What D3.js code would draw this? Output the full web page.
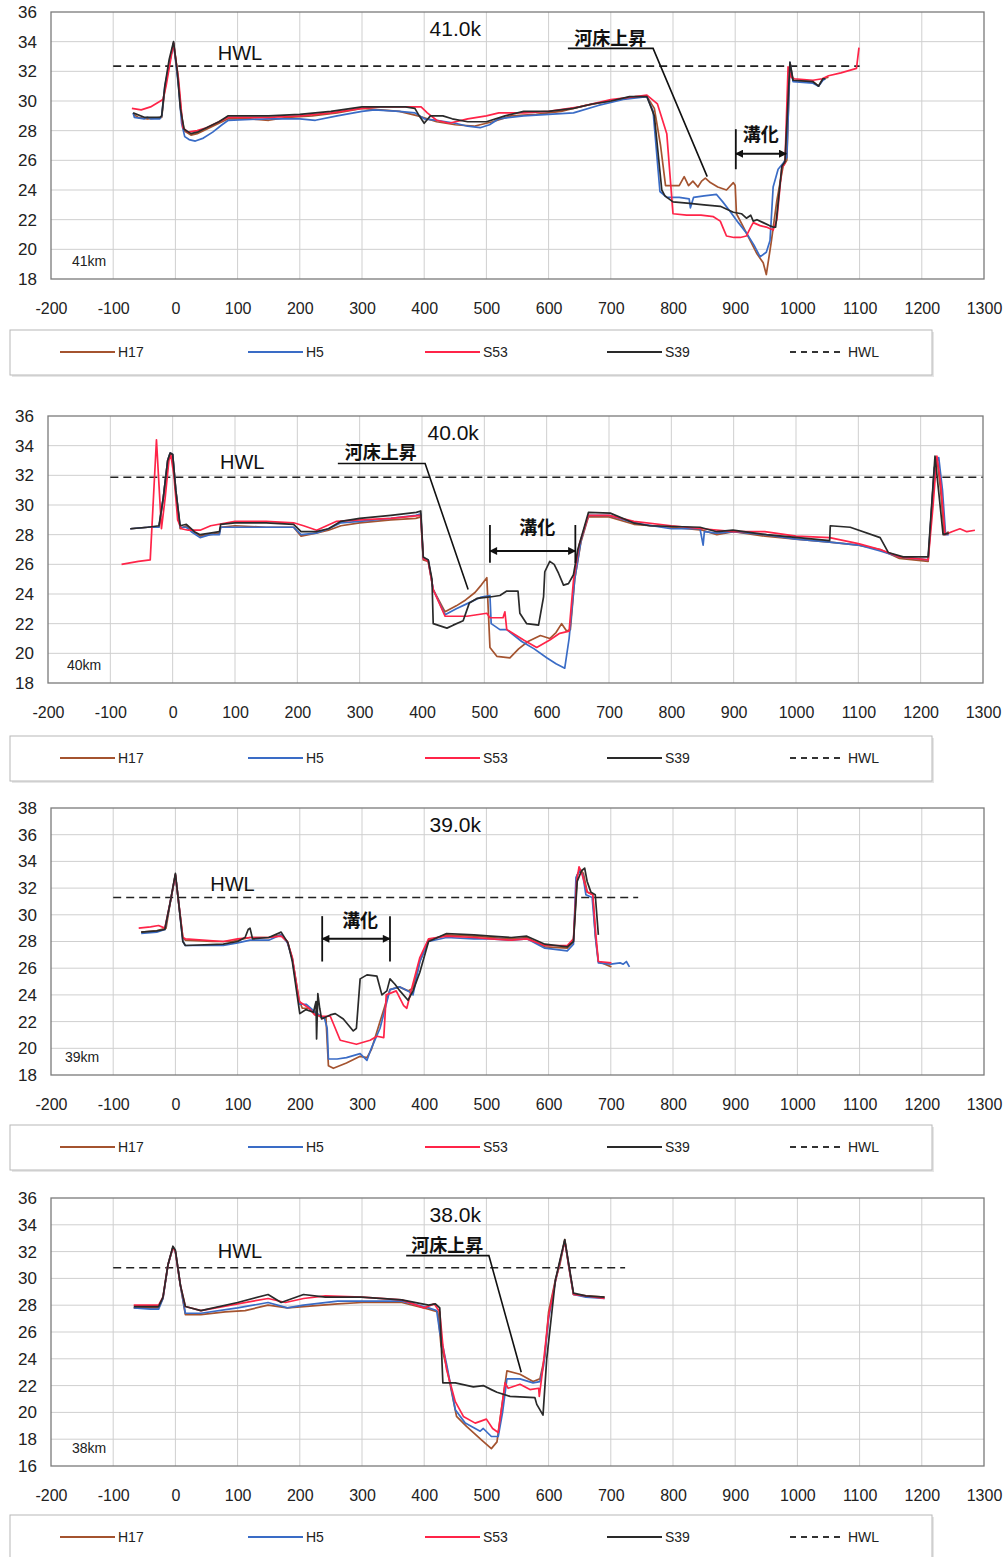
<!DOCTYPE html>
<html><head><meta charset="utf-8">
<script src="https://cdn.jsdelivr.net/npm/d3@7"></script>
<style>body{margin:0;background:#fff}</style>
</head><body>
<svg id="c" width="1006" height="1557" xmlns="http://www.w3.org/2000/svg"></svg>
<script>
// ---------------- DATA ----------------
const seriesNames = ["H17", "H5", "S53", "S39"];
const xTickValues = [-200,-100,0,100,200,300,400,500,600,700,800,900,1000,1100,1200,1300];
const sectionTitles = ["41.0k", "40.0k", "39.0k", "38.0k"];
const sectionKm = ["41km", "40km", "39km", "38km"];
const hwlLevels = [32.35, 31.87, 31.3, 30.8];
const hwlExtents = [[-100,1100], [-100,1300], [-100,744], [-100,723]];
const yDomains = [[18,36], [18,36], [18,38], [16,36]];

// 41.0k
const s41_H17 = [[-68,29.1],[-60,28.9],[-45,28.8],[-22,28.9],[-17,30.8],[-10,32.5],[-3,33.9],[3,32.0],[10,29.0],[14,28.0],[25,27.7],[35,27.8],[50,28.1],[70,28.5],[85,28.8],[120,28.8],[150,28.7],[180,28.9],[220,29.0],[260,29.2],[300,29.5],[330,29.4],[360,29.3],[390,29.0],[420,28.6],[450,28.4],[480,28.3],[510,28.6],[540,29.0],[580,29.1],[620,29.3],[660,29.7],[700,30.0],[740,30.3],[758,30.3],[770,29.5],[780,27.0],[788,24.3],[800,24.3],[810,24.3],[818,24.9],[825,24.3],[832,24.6],[840,24.2],[846,24.6],[852,24.8],[860,24.5],[872,24.2],[886,24.0],[897,24.5],[900,24.3],[902,22.4],[912,21.6],[924,20.6],[935,19.7],[945,19.1],[950,18.3],[958,20.5],[967,23.3],[977,25.6],[983,26.0],[988,32.6],[993,31.4],[1025,31.3],[1034,31.0],[1041,31.5],[1050,31.6]];
const s41_H5 = [[-68,29.2],[-66,28.9],[-50,28.8],[-45,28.9],[-40,28.8],[-25,28.8],[-22,29.0],[-17,31.0],[-3,33.9],[5,31.0],[10,28.5],[15,27.6],[22,27.4],[32,27.3],[45,27.5],[60,27.9],[75,28.4],[85,28.7],[150,28.8],[200,28.8],[225,28.7],[260,29.0],[300,29.3],[320,29.4],[360,29.3],[385,29.2],[400,28.8],[420,28.7],[450,28.5],[470,28.3],[490,28.2],[505,28.4],[520,28.8],[560,29.0],[600,29.1],[640,29.2],[680,29.7],[720,30.1],[758,30.3],[768,29.3],[779,23.9],[790,23.5],[810,23.5],[826,23.4],[828,22.8],[833,23.5],[850,23.6],[870,23.7],[880,23.2],[891,22.6],[905,21.8],[918,21.1],[930,20.3],[940,19.5],[950,19.8],[956,20.6],[961,24.2],[969,25.4],[977,25.8],[983,26.2],[988,32.6],[993,31.3],[1025,31.2],[1034,31.0],[1041,31.4],[1045,31.5]];
const s41_S53 = [[-70,29.5],[-55,29.4],[-40,29.6],[-20,30.1],[-15,31.0],[-3,33.9],[5,31.5],[12,28.2],[20,27.9],[35,28.0],[50,28.2],[65,28.5],[85,28.9],[150,28.9],[200,29.0],[250,29.2],[300,29.5],[330,29.6],[370,29.6],[395,29.6],[405,29.2],[420,28.7],[440,28.5],[470,28.8],[500,29.0],[520,29.2],[560,29.2],[600,29.3],[650,29.6],[700,30.1],[740,30.3],[758,30.4],[775,29.8],[790,27.8],[800,22.4],[822,22.3],[845,22.3],[865,22.2],[876,21.9],[881,21.4],[886,20.9],[898,20.8],[908,20.8],[918,20.9],[925,21.5],[929,21.8],[940,21.6],[950,21.5],[961,21.3],[967,22.0],[975,25.5],[980,25.8],[985,32.3],[990,31.6],[995,31.5],[1025,31.4],[1040,31.5],[1050,31.7],[1070,31.9],[1095,32.2],[1099,33.6]];
const s41_S39 = [[-68,29.2],[-50,28.9],[-25,28.9],[-22,29.0],[-17,31.0],[-10,32.8],[-3,34.0],[3,32.0],[8,29.5],[14,28.1],[25,27.8],[35,27.9],[50,28.2],[70,28.6],[85,29.0],[150,29.0],[200,29.1],[250,29.3],[300,29.6],[340,29.6],[370,29.6],[385,29.5],[392,29.0],[400,28.5],[410,29.0],[430,29.0],[445,28.8],[470,28.6],[500,28.6],[530,29.0],[560,29.3],[600,29.3],[640,29.5],[670,29.8],[700,30.0],[730,30.3],[758,30.3],[770,29.0],[782,24.0],[787,23.6],[800,23.2],[827,23.1],[850,23.0],[876,22.9],[897,22.5],[910,22.4],[918,22.1],[925,22.3],[929,21.9],[935,22.0],[945,21.8],[955,21.6],[961,21.5],[965,21.5],[975,25.6],[980,25.9],[988,32.6],[993,31.4],[1025,31.3],[1034,31.0],[1041,31.5],[1045,31.5]];

// 40.0k
const s40_H17 = [[-68,28.4],[-40,28.5],[-22,28.5],[-15,30.5],[-8,33.0],[-4,33.5],[0,33.4],[5,31.0],[12,28.4],[22,28.6],[30,28.3],[44,27.9],[60,28.0],[75,28.1],[77,28.5],[100,28.6],[150,28.5],[194,28.5],[206,27.9],[230,28.1],[250,28.3],[270,28.6],[300,28.8],[350,29.0],[390,29.1],[398,29.2],[402,26.3],[410,26.2],[418,24.3],[437,22.8],[455,23.2],[470,23.6],[485,24.1],[495,24.6],[504,25.1],[509,20.4],[520,19.8],[541,19.7],[555,20.3],[570,20.8],[590,21.2],[605,21.0],[615,21.4],[624,22.0],[632,21.5],[638,21.6],[645,25.0],[655,27.5],[667,29.2],[700,29.2],[740,28.7],[800,28.5],[850,28.3],[873,28.0],[900,28.2],[950,27.9],[1000,27.7],[1054,27.5],[1100,27.3],[1135,27.0],[1166,26.4],[1212,26.2],[1222,32.5],[1226,33.2],[1232,31.0],[1238,28.0],[1245,28.2]];
const s40_H5 = [[-68,28.4],[-40,28.5],[-22,28.5],[-15,30.5],[-8,33.0],[-4,33.5],[0,33.4],[5,31.0],[12,28.5],[22,28.5],[30,28.2],[44,27.8],[60,28.0],[75,28.0],[77,28.5],[100,28.5],[150,28.5],[194,28.5],[206,28.0],[230,28.1],[250,28.4],[270,28.8],[300,28.9],[350,29.1],[390,29.3],[398,29.4],[402,26.4],[410,26.3],[418,24.3],[437,22.6],[455,23.0],[470,23.3],[495,23.8],[509,23.9],[511,22.0],[525,21.6],[536,21.6],[560,20.8],[580,20.3],[600,19.7],[615,19.3],[629,19.0],[636,21.0],[645,25.0],[655,27.6],[667,29.3],[700,29.3],[740,28.8],[800,28.4],[846,28.4],[851,27.3],[853,28.2],[873,28.1],[900,28.2],[950,28.0],[1000,27.7],[1054,27.5],[1100,27.3],[1135,26.9],[1166,26.5],[1212,26.3],[1222,32.5],[1229,33.2],[1235,31.0],[1240,28.0],[1245,28.0]];
const s40_S53 = [[-82,26.0],[-55,26.2],[-36,26.3],[-26,34.4],[-18,28.4],[-12,30.5],[-6,33.0],[-3,33.4],[2,32.0],[8,29.0],[14,28.4],[25,28.3],[44,28.3],[61,28.6],[100,28.9],[150,28.9],[194,28.8],[210,28.6],[231,28.3],[263,28.9],[300,29.0],[350,29.1],[398,29.3],[402,26.4],[410,26.2],[418,24.3],[437,22.5],[472,22.5],[504,22.7],[509,22.4],[530,22.4],[533,22.8],[536,21.6],[563,20.9],[584,20.4],[605,20.9],[621,21.35],[636,21.5],[643,24.9],[652,27.3],[667,29.3],[700,29.3],[740,28.9],[800,28.6],[850,28.4],[900,28.2],[950,28.2],[1000,27.9],[1054,27.8],[1100,27.4],[1135,27.0],[1166,26.5],[1212,26.3],[1220,30.0],[1226,33.3],[1232,31.5],[1239,28.0],[1250,28.2],[1263,28.4],[1274,28.2],[1287,28.3]];
const s40_S39 = [[-68,28.4],[-40,28.5],[-22,28.6],[-15,30.5],[-8,33.0],[-4,33.5],[0,33.4],[5,31.0],[12,28.6],[22,28.7],[35,28.2],[44,28.0],[60,28.1],[75,28.2],[77,28.7],[100,28.8],[150,28.8],[194,28.7],[206,28.2],[230,28.2],[250,28.4],[270,28.9],[300,29.1],[350,29.3],[391,29.5],[398,29.6],[402,26.5],[410,26.3],[416,25.0],[418,22.0],[440,21.7],[450,21.9],[466,22.2],[476,23.4],[488,23.7],[509,23.8],[525,23.9],[536,24.2],[554,24.2],[557,22.7],[568,22.0],[587,21.9],[595,23.8],[597,25.5],[605,26.2],[612,26.0],[619,25.4],[627,24.6],[635,24.7],[643,25.3],[650,27.0],[667,29.5],[702,29.45],[739,28.8],[765,28.6],[846,28.5],[873,28.2],[899,28.3],[953,28.0],[1054,27.6],[1055,28.6],[1087,28.5],[1135,27.8],[1148,26.8],[1172,26.5],[1212,26.5],[1223,33.3],[1236,28.0],[1245,28.1]];

// 39.0k
const s39_H17 = [[-55,28.7],[-30,28.8],[-15,29.0],[-8,31.0],[0,33.0],[5,31.0],[12,28.3],[16,28.1],[60,28.0],[90,28.0],[120,28.3],[150,28.3],[170,28.5],[180,28.0],[188,26.7],[199,23.6],[204,23.0],[215,23.0],[225,22.6],[235,22.3],[242,22.3],[246,18.7],[254,18.5],[275,18.9],[297,19.4],[308,19.3],[315,19.9],[329,22.0],[345,24.4],[360,24.6],[374,24.3],[382,24.5],[393,26.5],[407,28.1],[436,28.5],[480,28.4],[507,28.3],[540,28.2],[565,28.3],[594,27.6],[630,27.5],[640,28.0],[646,33.0],[651,33.4],[656,33.1],[662,31.7],[671,31.5],[675,28.5],[680,26.5],[701,26.1]];
const s39_H5 = [[-55,28.6],[-30,28.7],[-17,28.9],[-8,31.0],[0,33.0],[5,31.0],[12,28.0],[16,27.7],[77,27.7],[100,27.9],[120,28.1],[150,28.1],[170,28.5],[180,27.9],[188,26.7],[199,23.3],[210,23.3],[225,22.7],[240,22.2],[244,21.5],[246,19.2],[260,19.2],[275,19.3],[297,19.6],[308,19.1],[315,20.0],[329,21.5],[345,24.4],[361,24.6],[374,24.3],[382,24.0],[393,26.5],[407,28.0],[436,28.3],[480,28.2],[507,28.2],[540,28.1],[565,28.2],[594,27.5],[630,27.3],[640,27.8],[644,32.8],[650,33.3],[655,33.0],[660,31.5],[670,31.3],[676,28.0],[680,26.4],[700,26.3],[715,26.4],[720,26.3],[725,26.5],[730,26.1]];
const s39_S53 = [[-59,29.0],[-40,29.1],[-27,29.2],[-17,29.0],[-8,31.0],[0,33.0],[5,31.0],[12,28.3],[16,28.2],[77,28.0],[100,28.2],[120,28.3],[150,28.3],[170,28.4],[180,28.0],[188,26.8],[199,23.5],[215,23.0],[224,22.5],[237,22.4],[249,22.4],[265,20.6],[291,20.3],[313,20.6],[324,20.9],[335,20.8],[339,24.0],[355,24.3],[367,23.2],[372,23.0],[380,24.5],[393,26.8],[407,28.2],[436,28.4],[480,28.3],[507,28.2],[540,28.1],[565,28.2],[594,27.7],[630,27.7],[640,28.2],[645,32.5],[649,33.6],[654,33.0],[662,31.7],[671,31.5],[676,28.5],[680,26.5],[701,26.4]];
const s39_S39 = [[-55,28.7],[-30,28.8],[-17,28.9],[-8,31.0],[0,33.1],[5,31.0],[12,28.0],[16,27.7],[77,27.8],[100,28.0],[112,28.3],[117,28.9],[120,29.0],[124,28.2],[150,28.3],[170,28.7],[181,27.9],[188,26.5],[200,22.6],[210,22.9],[222,22.7],[226,23.5],[227,20.7],[229,24.1],[232,23.0],[235,22.2],[249,22.5],[257,22.6],[270,22.2],[286,21.3],[291,21.5],[297,25.2],[308,25.5],[324,25.4],[332,24.0],[340,24.3],[345,25.2],[353,24.8],[361,24.3],[374,23.6],[382,24.3],[393,25.7],[407,28.0],[436,28.6],[480,28.5],[507,28.4],[540,28.3],[565,28.4],[594,27.8],[630,27.6],[640,28.0],[646,32.5],[653,33.3],[658,33.5],[662,32.5],[668,31.7],[675,31.5],[680,28.5]];

// 38.0k
const s38_H17 = [[-67,27.8],[-40,27.8],[-27,27.8],[-20,28.5],[-12,31.0],[-4,32.3],[0,32.0],[8,29.5],[16,27.3],[41,27.3],[80,27.5],[112,27.6],[149,28.0],[180,27.8],[206,27.9],[261,28.1],[300,28.2],[364,28.2],[407,27.7],[422,27.5],[427,25.0],[436,23.4],[452,19.7],[468,18.95],[492,17.95],[508,17.3],[517,17.8],[525,20.5],[533,23.1],[554,22.85],[575,22.3],[586,22.5],[594,24.2],[600,27.5],[611,29.9],[618,31.0],[626,32.9],[632,31.0],[640,28.8],[660,28.7],[690,28.6]];
const s38_H5 = [[-67,27.8],[-40,27.7],[-27,27.7],[-20,28.5],[-12,31.0],[-4,32.3],[0,32.0],[8,29.5],[16,27.4],[41,27.4],[100,27.8],[149,28.2],[180,27.8],[206,28.0],[261,28.3],[300,28.3],[364,28.3],[407,27.8],[420,27.6],[425,26.0],[436,23.6],[450,20.2],[466,19.2],[490,18.6],[495,18.8],[508,18.2],[519,18.2],[526,20.0],[533,22.5],[554,22.5],[575,22.2],[586,22.3],[592,23.5],[600,27.0],[611,29.8],[626,32.8],[640,28.8],[660,28.6],[690,28.5]];
const s38_S53 = [[-67,28.0],[-40,28.0],[-27,28.0],[-20,28.6],[-12,31.0],[-4,32.3],[0,32.0],[8,29.5],[16,27.9],[41,27.6],[100,28.1],[149,28.5],[177,28.2],[206,28.5],[241,28.7],[300,28.6],[364,28.4],[400,27.8],[416,28.1],[425,27.5],[430,25.0],[436,23.2],[450,20.8],[463,19.7],[482,19.2],[500,19.5],[510,18.8],[519,18.5],[525,20.5],[530,22.2],[535,21.8],[554,22.1],[570,21.7],[584,21.8],[585,21.2],[590,23.0],[600,27.2],[611,29.8],[626,32.8],[640,28.8],[660,28.7],[690,28.5]];
const s38_S39 = [[-67,27.9],[-40,27.9],[-27,27.9],[-20,28.6],[-12,31.0],[-4,32.4],[0,32.1],[8,29.5],[16,27.9],[41,27.6],[100,28.2],[149,28.8],[170,28.2],[206,28.8],[241,28.6],[299,28.6],[364,28.4],[407,28.0],[418,28.1],[425,27.8],[430,22.2],[450,22.2],[479,21.9],[495,22.0],[508,21.7],[517,21.5],[538,21.2],[578,21.1],[581,20.6],[591,19.8],[597,24.0],[611,29.9],[626,32.9],[640,28.9],[660,28.7],[690,28.6]];

const sectionSeries = [
  [s41_H17, s41_H5, s41_S53, s41_S39],
  [s40_H17, s40_H5, s40_S53, s40_S39],
  [s39_H17, s39_H5, s39_S53, s39_S39],
  [s38_H17, s38_H5, s38_S53, s38_S39]
];

// ---------------- LAYOUT / STYLE ----------------
const colors = {H17:"#a4532f", H5:"#3a6cc6", S53:"#ff2448", S39:"#2a2a2a"};
const layout = [
  {l:51, t:12,   r:984, b:279,  legendY:352,  hwlX:68,  kmX:72},
  {l:48, t:416,  r:983, b:683,  legendY:758,  hwlX:76,  kmX:67},
  {l:51, t:808,  r:984, b:1075, legendY:1147, hwlX:56,  kmX:65},
  {l:51, t:1198, r:984, b:1466, legendY:1537, hwlX:68,  kmX:72}
];
// annotations in data units
const annotations = [
  {rise:{label:[699,33.75], path:[[631,33.55],[768,33.55],[855,24.9]]},
   groove:{label:[941,27.3], bars:[901], yBar:[28.1,25.4], arrow:[901,982], yArrow:26.45}},
  {rise:{label:[334,33.1], path:[[265,32.8],[405,32.8],[474,24.3]]},
   groove:{label:[585,28.05], bars:[509,646], yBar:[28.65,26.1], arrow:[509,646], yArrow:26.9}},
  {groove:{label:[297,29.05], bars:[236,345], yBar:[29.9,26.5], arrow:[236,345], yArrow:28.2}},
  {rise:{label:[437,32.0], path:[[371,31.7],[504,31.7],[556,23.0]]}}
];

const svg = d3.select("#c");
svg.append("rect").attr("width",1006).attr("height",1557).attr("fill","#fff");
const defs = svg.append("defs");
defs.append("marker").attr("id","ah").attr("viewBox","0 0 10 10").attr("refX",9).attr("refY",5)
  .attr("markerWidth",9).attr("markerHeight",8).attr("markerUnits","userSpaceOnUse").attr("orient","auto-start-reverse")
  .append("path").attr("d","M0,0 L10,5 L0,10 z").attr("fill","#111");

const numFont = "'Liberation Sans', Arial, sans-serif";
const cjkFont = "'Noto Sans CJK JP', 'Noto Sans CJK SC', sans-serif";

layout.forEach((L, i) => {
  const x = d3.scaleLinear().domain([-200,1300]).range([L.l, L.r]);
  const y = d3.scaleLinear().domain(yDomains[i]).range([L.b, L.t]);
  const g = svg.append("g");

  // grid
  const yTicks = d3.range(yDomains[i][0], yDomains[i][1] + 0.001, 2);
  g.selectAll(".hg").data(yTicks.slice(1, -1)).join("line")
    .attr("x1", L.l).attr("x2", L.r).attr("y1", d => y(d)).attr("y2", d => y(d))
    .attr("stroke", "#cfcfcf").attr("stroke-width", 1);
  g.selectAll(".vg").data(xTickValues.slice(1, -1)).join("line")
    .attr("x1", d => x(d)).attr("x2", d => x(d)).attr("y1", L.t).attr("y2", L.b)
    .attr("stroke", "#cfcfcf").attr("stroke-width", 1);

  // axes labels via d3 axes
  const ax = g.append("g").attr("transform", `translate(0,${L.b})`)
    .call(d3.axisBottom(x).tickValues(xTickValues).tickSize(0).tickPadding(24).tickFormat(d => String(d)));
  ax.select(".domain").remove();
  ax.selectAll("text").attr("font-family", numFont).attr("font-size", 16).attr("fill", "#222");
  const ay = g.append("g").attr("transform", `translate(${L.l},0)`)
    .call(d3.axisLeft(y).tickValues(yTicks).tickSize(0).tickPadding(14).tickFormat(d3.format("d")));
  ay.select(".domain").remove();
  ay.selectAll("text").attr("font-family", numFont).attr("font-size", 17).attr("fill", "#222");

  // HWL
  g.append("line").attr("x1", x(hwlExtents[i][0])).attr("x2", x(hwlExtents[i][1]))
    .attr("y1", y(hwlLevels[i])).attr("y2", y(hwlLevels[i]))
    .attr("stroke", "#222").attr("stroke-width", 1.6).attr("stroke-dasharray", "8,5");

  // series
  const line = d3.line().x(d => x(d[0])).y(d => y(d[1]));
  sectionSeries[i].forEach((data, k) => {
    g.append("path").attr("d", line(data)).attr("fill", "none")
      .attr("stroke", colors[seriesNames[k]]).attr("stroke-width", 1.7).attr("stroke-linejoin", "round");
  });

  // border
  g.append("rect").attr("x", L.l).attr("y", L.t).attr("width", L.r - L.l).attr("height", L.b - L.t)
    .attr("fill", "none").attr("stroke", "#7a7a7a").attr("stroke-width", 1.3);

  // texts
  g.append("text").attr("x", x(450)).attr("y", L.t + 24).attr("text-anchor", "middle")
    .attr("font-family", numFont).attr("font-size", 21).attr("fill", "#111").text(sectionTitles[i]);
  const hwlLabelY = y(hwlLevels[i]) - [6, 8, 6, 10][i];
  g.append("text").attr("x", x(L.hwlX)).attr("y", hwlLabelY)
    .attr("font-family", numFont).attr("font-size", 20).attr("fill", "#111").text("HWL");
  g.append("text").attr("x", L.kmX).attr("y", L.b - 13)
    .attr("font-family", numFont).attr("font-size", 14).attr("fill", "#222").text(sectionKm[i]);

  const A = annotations[i];
  if (A.rise) {
    g.append("text").attr("x", x(A.rise.label[0])).attr("y", y(A.rise.label[1])).attr("text-anchor", "middle")
      .attr("font-family", cjkFont).attr("font-weight", "bold").attr("font-size", 18).attr("fill", "#111").text("河床上昇");
    g.append("path").attr("d", d3.line().x(d => x(d[0])).y(d => y(d[1]))(A.rise.path))
      .attr("fill", "none").attr("stroke", "#111").attr("stroke-width", 1.6);
  }
  if (A.groove) {
    const G = A.groove;
    g.append("text").attr("x", x(G.label[0])).attr("y", y(G.label[1])).attr("text-anchor", "middle")
      .attr("font-family", cjkFont).attr("font-weight", "bold").attr("font-size", 18).attr("fill", "#111").text("溝化");
    G.bars.forEach(b => {
      g.append("line").attr("x1", x(b)).attr("x2", x(b)).attr("y1", y(G.yBar[0])).attr("y2", y(G.yBar[1]))
        .attr("stroke", "#111").attr("stroke-width", 1.8);
    });
    g.append("line").attr("x1", x(G.arrow[0])).attr("x2", x(G.arrow[1]))
      .attr("y1", y(G.yArrow)).attr("y2", y(G.yArrow))
      .attr("stroke", "#111").attr("stroke-width", 2)
      .attr("marker-start", "url(#ah)").attr("marker-end", "url(#ah)");
  }

  // legend
  const ly = L.legendY;
  g.append("rect").attr("x", 12).attr("y", ly - 20).attr("width", 922).attr("height", 45)
    .attr("fill", "#e6e6e6");
  g.append("rect").attr("x", 10).attr("y", ly - 22).attr("width", 922).attr("height", 45)
    .attr("fill", "#fff").attr("stroke", "#b8b8b8").attr("stroke-width", 1);
  const legendItems = [...seriesNames, "HWL"];
  const lx = [60, 248, 425, 607, 790];
  legendItems.forEach((name, k) => {
    g.append("line").attr("x1", lx[k]).attr("x2", lx[k] + 55).attr("y1", ly).attr("y2", ly)
      .attr("stroke", name === "HWL" ? "#333" : colors[name]).attr("stroke-width", 1.8)
      .attr("stroke-dasharray", name === "HWL" ? "6,5" : null);
    g.append("text").attr("x", lx[k] + 58).attr("y", ly + 5)
      .attr("font-family", numFont).attr("font-size", 14).attr("fill", "#222").text(name);
  });
});
</script>
</body></html>
